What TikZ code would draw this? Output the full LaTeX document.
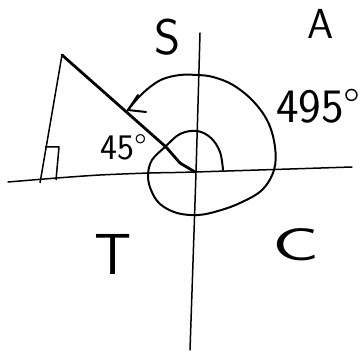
\documentclass[tikz,border=0pt]{standalone}
\usepackage{fontspec}
\usepackage{graphicx}
\begin{document}
\begin{tikzpicture}[x=1pt,y=-1pt,
  axis/.style={line width=1.5pt,line cap=round},
  thin/.style={line width=1.5pt,line join=round},
  thick/.style={line width=2.8pt,line cap=round},
  spiral/.style={line width=2pt,line cap=round,line join=round},
  lbl/.style={inner sep=0pt,font=\sffamily}]
\useasboundingbox (0,0) rectangle (362,352);
% axes
\coordinate (vt) at (200,33);
\coordinate (vm) at (196,172);
\coordinate (vb) at (190,350);
\coordinate (hl) at (8,182);
\coordinate (hm) at (150,173);
\coordinate (o) at (195,172);
\coordinate (hr) at (352,167);
\draw[axis] plot[smooth] coordinates {(vt) (vm) (vb)};
\draw[axis] plot[smooth] coordinates {(hl) (57,178) (100,175) (hm) (o) (hr)};
% triangle
\coordinate (apex) at (62,55);
\coordinate (foot) at (40,183);
\draw[thin] (apex) -- (foot);
\draw[thick] (apex) -- (166,147) -- (180,163) -- (o);
\coordinate (ra1) at (45,147);
\coordinate (ra2) at (59,147);
\coordinate (ra3) at (56,180);
\draw[thin] (ra1) -- (ra2) -- (ra3);
% spiral
\coordinate (tip) at (128,110);
\draw[spiral] plot[smooth,tension=0.6] coordinates {(223,170) (220,152) (211,138) (197,131) (180,134) (165,147) (152,160) (148,175) (151,190) (160,204) (177,213) (198,215) (218,211) (240,203) (262,190) (274,170) (275,147) (268,122) (253,101) (233,85) (213,77) (197,75) (180,75) (163,79) (150,87) (138,98) (tip)};
\coordinate (b1) at (138,95);
\coordinate (b2) at (146,112);
\draw[spiral] (b1) -- (tip) -- (b2);
% labels
\node[lbl,font=\sffamily\fontsize{50}{50}\selectfont] (S) at (168,37) {S};
\node[lbl,font=\sffamily\fontsize{42}{42}\selectfont] (A) at (321,24) {A};
\node[lbl,font=\sffamily\fontsize{48}{48}\selectfont,anchor=west] (ang) at (276,106) {495\textdegree};
\node[lbl,font=\sffamily\fontsize{36}{36}\selectfont,anchor=west] (a45) at (100,147) {45\textdegree};
\node[lbl,font=\sffamily\fontsize{58}{58}\selectfont] (T) at (113,254) {T};
\node[lbl,font=\sffamily\fontsize{46}{46}\selectfont] (C) at (296,245) {\scalebox{1.7}[1]{C}};
\end{tikzpicture}
\end{document}
